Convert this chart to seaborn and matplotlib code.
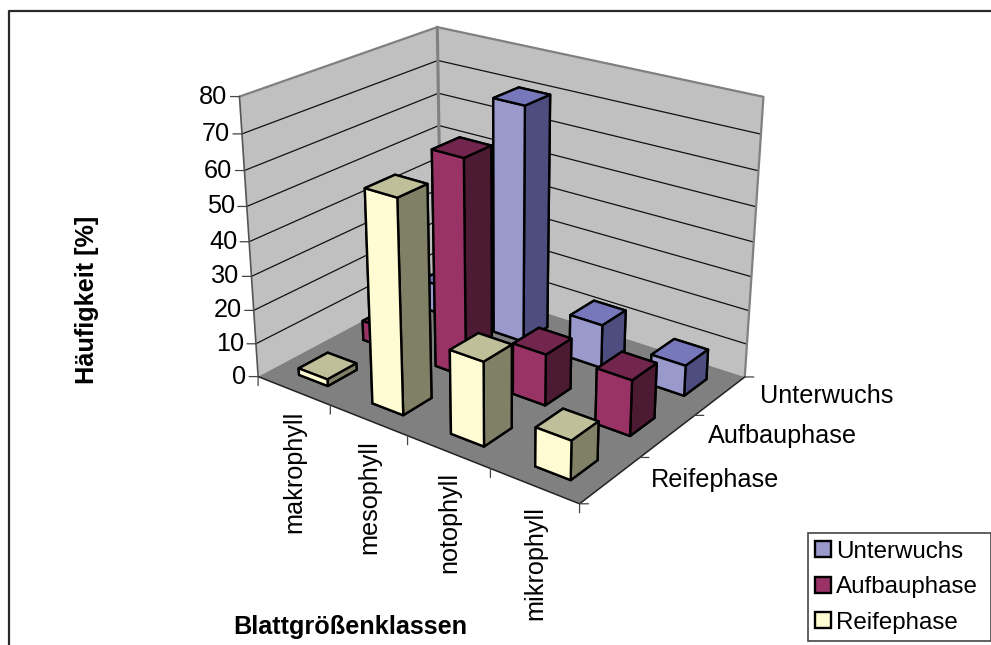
import numpy as np
import matplotlib
matplotlib.use("Agg")
import matplotlib.pyplot as plt
import seaborn as sns
from matplotlib.lines import Line2D
from matplotlib.patches import Patch
from mpl_toolkits.mplot3d import proj3d
from mpl_toolkits.mplot3d.art3d import Poly3DCollection

sns.set_theme(style="white")
plt.rcParams['font.family'] = ['Liberation Sans', 'DejaVu Sans']

categories = ["makrophyll", "mesophyll", "notophyll", "mikrophyll"]
series = ["Reifephase", "Aufbauphase", "Unterwuchs"]
reife = [2, 61, 24, 11]
aufbau = [6, 63.5, 15, 16]
unterwuchs = [9, 70.5, 13, 9]
values = {"Reifephase": reife, "Aufbauphase": aufbau, "Unterwuchs": unterwuchs}
z_ticks = [0, 10, 20, 30, 40, 50, 60, 70, 80]
# front, top, side
face_colors = {"Reifephase": ("#FFFBD2", "#BFBF99", "#808066"),
               "Aufbauphase": ("#993366", "#73264D", "#4D1A33"),
               "Unterwuchs": ("#9999CC", "#7777BB", "#4D4D80")}

W, H = 991, 645
FS = 18.2
fig = plt.figure(figsize=(W/100, H/100), dpi=100)
ax = fig.add_axes([0.20941674, 0.16935435, 0.57746247, 0.88723303],
                  projection='3d', computed_zorder=False)
ax.view_init(23.3818, -53.0605)
ax.set_proj_type('persp', focal_length=0.52969)
ax.set_box_aspect((5.27871, 3.95603, 3.98332))
ax.set_axis_off()
ax.patch.set_visible(False)

nx, ny, zmax = len(categories), len(series), z_ticks[-1]
grey = "#808080"

# walls and floor
walls = [[(0, 0, 0), (0, ny, 0), (0, ny, zmax), (0, 0, zmax)],
         [(0, ny, 0), (nx, ny, 0), (nx, ny, zmax), (0, ny, zmax)]]
ax.add_collection3d(Poly3DCollection(walls, facecolor="#C0C0C0", edgecolor="none", zorder=1))
floor = [[(0, 0, 0), (nx, 0, 0), (nx, ny, 0), (0, ny, 0)]]
ax.add_collection3d(Poly3DCollection(floor, facecolor=grey, edgecolor="none", zorder=2))
for z in z_ticks[1:-1]:
    ax.plot([0, 0, nx], [0, ny, ny], [z, z, z], color="#111111", lw=0.9, zorder=3)
ax.plot([0, 0, nx, nx], [0, ny, ny, ny], [zmax, zmax, zmax, 0], color=grey, lw=1.6, zorder=3)
ax.plot([0, 0], [ny, ny], [0, zmax], color=grey, lw=2.2, zorder=3)
ax.plot([0, 0], [0, 0], [0, zmax], color="#555555", lw=1.2, zorder=3)
ax.plot([0, nx, nx], [0, 0, ny], [0, 0, 0], color="#222222", lw=1.1, zorder=3)

# bars, drawn back to front
dx, dy = 0.40, 0.44
order = 10
for r in range(ny - 1, -1, -1):
    name = series[r]
    front, top, side = face_colors[name]
    cols = [top, top, front, front, side, side]
    for i in range(nx):
        ax.bar3d(i + (1 - dx)/2 + 0.01, r + (1 - dy)/2, 0, dx, dy, values[name][i],
                 color=cols, shade=False, edgecolor="black", linewidth=1.7,
                 zorder=order)
        order += 1

ax.set_xlim(0, nx); ax.set_ylim(0, ny); ax.set_zlim(0, zmax)
M = ax.get_proj()

def p2(x, y, z):
    u, v, _ = proj3d.proj_transform(x, y, z, M)
    return float(u), float(v)

def tick(x, y, z, dxp, dyp):
    ax.annotate("", xy=p2(x, y, z), xytext=(dxp, dyp), textcoords="offset pixels",
                annotation_clip=False,
                arrowprops=dict(arrowstyle="-", color="#444444", lw=0.9,
                                shrinkA=0, shrinkB=0))

def label(s, x, y, z, dxp, dyp, **kw):
    ax.annotate(s, xy=p2(x, y, z), xytext=(dxp, dyp), textcoords="offset pixels",
                annotation_clip=False, fontsize=FS, color="black", **kw)

for z in z_ticks:
    tick(0, 0, z, -9, 0)
    label(str(z), 0, 0, z, -12, 0, ha="right", va="center")
for i in range(nx + 1):
    tick(i, 0, 0, 0, -9)
for r in range(ny + 1):
    tick(nx, r, 0, 9, 0)
for i, c in enumerate(categories):
    label(c, i + 0.5, 0, 0, 1, -20, rotation=90, ha="center", va="top")
for r, s_ in enumerate(series):
    label(s_, nx, r + 0.5, 0, 40, 0, ha="left", va="center")

fig.text(350/W, 1 - 627/H, "Blattgrößenklassen", fontsize=FS, fontweight="bold",
         ha="center", va="center", color="black")
fig.text(87/W, 1 - 300/H, "Häufigkeit [%]", fontsize=FS, fontweight="bold",
         rotation=90, ha="center", va="center", color="black")

handles = [Patch(facecolor=face_colors[n][0], edgecolor="black", linewidth=1.7)
           for n in series[::-1]]
leg = fig.legend(handles, series[::-1], loc="lower left",
                 bbox_to_anchor=(808/W, 1 - 641/H, 183/W, 109/H), mode="expand",
                 fontsize=17.4, frameon=True, fancybox=False, framealpha=1,
                 edgecolor="#444444", handlelength=0.65, handleheight=0.65,
                 handletextpad=0.2, labelspacing=0.56, borderpad=0.3,
                 borderaxespad=0)
leg.get_frame().set_linewidth(1.2)
for t in leg.get_texts():
    t.set_color("black")

fig.add_artist(Line2D([9/W, 9/W, 1], [0, 1 - 10.5/H, 1 - 10.5/H], color="#2A2A2A", lw=1.6,
                      transform=fig.transFigure))
fig.savefig("out.png", dpi=100)
